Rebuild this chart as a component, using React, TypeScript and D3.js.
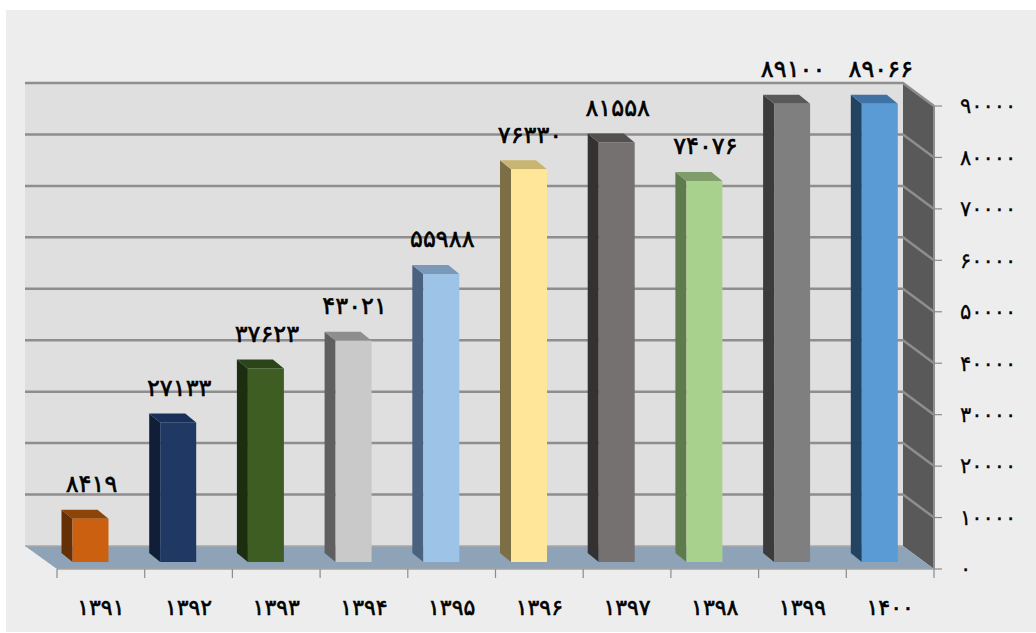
import React from "react";
import { scaleBand, scaleLinear } from "d3";

const years = ["۱۳۹۱", "۱۳۹۲", "۱۳۹۳", "۱۳۹۴", "۱۳۹۵", "۱۳۹۶", "۱۳۹۷", "۱۳۹۸", "۱۳۹۹", "۱۴۰۰"];
const values = [8419, 27133, 37623, 43021, 55988, 76330, 81558, 74076, 89100, 89066];
const valueLabels = ["۸۴۱۹", "۲۷۱۳۳", "۳۷۶۲۳", "۴۳۰۲۱", "۵۵۹۸۸", "۷۶۳۳۰", "۸۱۵۵۸", "۷۴۰۷۶", "۸۹۱۰۰", "۸۹۰۶۶"];
const yTicks = [0, 10000, 20000, 30000, 40000, 50000, 60000, 70000, 80000, 90000];
const yTickLabels = ["۰", "۱۰۰۰۰", "۲۰۰۰۰", "۳۰۰۰۰", "۴۰۰۰۰", "۵۰۰۰۰", "۶۰۰۰۰", "۷۰۰۰۰", "۸۰۰۰۰", "۹۰۰۰۰"];
const frontColors = ["#cb6011", "#203864", "#3d5d22", "#c9c9c9", "#9dc3e6", "#ffe699", "#767171", "#a9d18e", "#7f7f7f", "#5b9bd5"];
const sideColors = ["#653008", "#111e38", "#1d2e10", "#5f5f5f", "#4a6280", "#7c6f45", "#333131", "#5f7a4d", "#3b3b3b", "#234460"];
const topColors = ["#8c4409", "#19305a", "#2b441a", "#8e8e8e", "#7a98b8", "#c8b572", "#545050", "#7e9d6a", "#595959", "#3f72a3"];

const fontFamily = "'DejaVu Sans', sans-serif";

// floor / wall depth of the 3d box and depth of one bar
const depthX = 31;
const depthY = 23;
const barDepthX = 11;
const barDepthY = 9;
const barWidth = 36;

export default function App() {
  const x = scaleBand<string>().domain(years).range([57, 934]);
  const y = scaleLinear().domain([0, 90000]).range([569, 106]);

  const left = x.range()[0];
  const right = x.range()[1];
  const base = y(0);
  const top = y(90000);

  return (
    <svg width={1036} height={633} style={{ position: "absolute", left: 0, top: 0 }} fontFamily={fontFamily}>
      <rect width={1036} height={633} fill="#fff" />
      <rect x={6} y={10} width={1030} height={622} fill="#ededed" />

      {/* back wall */}
      <rect x={left - depthX - 1} y={top - depthY} width={right - left + 1} height={base - top} fill="#dfdfdf" />

      {/* right wall */}
      <polygon
        points={`${right - depthX},${top - depthY} ${right},${top} ${right},${base} ${right - depthX},${base - depthY}`}
        fill="#595959"
      />

      {/* grid lines on both walls */}
      {yTicks.slice(1).map((t) => (
        <path
          key={t}
          d={`M${left - depthX - 1},${y(t) - depthY}H${right - depthX}L${right},${y(t)}`}
          fill="none"
          stroke="#8e8e8e"
          strokeWidth={2.5}
        />
      ))}
      <line x1={right} x2={right} y1={top} y2={base} stroke="#8e8e8e" strokeWidth={2} />

      {/* floor */}
      <polygon
        points={`${left - depthX - 1},${base - depthY} ${right - depthX},${base - depthY} ${right},${base} ${left},${base}`}
        fill="#8ea2b8"
      />
      <line x1={left - depthX - 1} x2={right - depthX} y1={base - depthY} y2={base - depthY} stroke="#a9a9a9" strokeWidth={1.5} />
      <line x1={left} x2={right} y1={base} y2={base} stroke="#a3a3a3" strokeWidth={1.5} />

      {/* axes */}
      {yTicks.map((t, i) => (
        <g key={t}>
          <line x1={right} x2={right + 8} y1={y(t)} y2={y(t)} stroke="#8c8c8c" strokeWidth={1.2} />
          <text x={960} y={y(t)} dy="0.35em" fontSize={21} letterSpacing={4} fill="#000" stroke="#000" strokeWidth={0.3}>
            {yTickLabels[i]}
          </text>
        </g>
      ))}
      {[...years.map((c) => x(c) as number), right].map((p) => (
        <line key={p} x1={p} x2={p} y1={base} y2={base + 9} stroke="#8c8c8c" strokeWidth={1.2} />
      ))}
      {years.map((c) => (
        <text
          key={c}
          x={(x(c) as number) + x.bandwidth() / 2}
          y={607}
          dy="0.35em"
          textAnchor="middle"
          fontSize={22}
          letterSpacing={-2.5}
          fill="#000"
          stroke="#000"
          strokeWidth={0.6}
        >
          {c}
        </text>
      ))}

      {/* bars */}
      {values.map((v, i) => {
        const bx = (x(years[i]) as number) + 15.5;
        const by = y(v) - 7;
        const bb = y(0) - 7;
        return (
          <g key={years[i]}>
            <polygon
              points={`${bx},${by} ${bx - barDepthX},${by - barDepthY} ${bx - barDepthX},${bb - barDepthY} ${bx},${bb}`}
              fill={sideColors[i]}
            />
            <polygon
              points={`${bx},${by} ${bx - barDepthX},${by - barDepthY} ${bx + barWidth - barDepthX},${by - barDepthY} ${bx + barWidth},${by}`}
              fill={topColors[i]}
            />
            <rect x={bx} y={by} width={barWidth} height={bb - by} fill={frontColors[i]} />
            <text
              x={bx + barWidth / 2 + 1}
              y={by - barDepthY - 26}
              dy="0.35em"
              textAnchor="middle"
              fontSize={24}
              letterSpacing={-2}
              fill="#000"
              stroke="#000"
              strokeWidth={0.6}
            >
              {valueLabels[i]}
            </text>
          </g>
        );
      })}
    </svg>
  );
}
